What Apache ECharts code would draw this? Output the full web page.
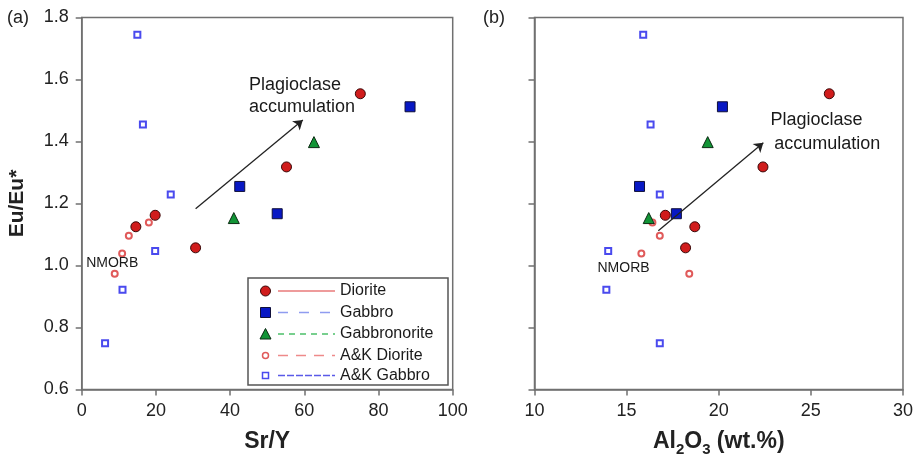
<!DOCTYPE html>
<html>
<head>
<meta charset="utf-8">
<script src="https://cdn.jsdelivr.net/npm/echarts@6/dist/echarts.min.js"></script>
<style>html,body{margin:0;padding:0;background:#fff}#c{width:916px;height:463px}</style>
</head>
<body>
<div id="c"></div>
<script>
// ---- data ----
const dioriteEu = [1.554, 1.318, 1.162, 1.125, 1.057];
const dioriteSrY = [75.1, 55.2, 19.8, 14.6, 30.7];
const dioriteAl = [26.0, 22.4, 17.1, 18.7, 18.2];

const gabbroEu = [1.512, 1.255, 1.167];
const gabbroSrY = [88.5, 42.6, 52.7];
const gabbroAl = [20.2, 15.7, 17.7];

const gabbronoriteEu = [1.398, 1.153];
const gabbronoriteSrY = [62.6, 41.0];
const gabbronoriteAl = [19.4, 16.2];

const akDioriteEu = [1.139, 1.096, 1.039, 0.973];
const akDioriteSrY = [18.1, 12.7, 10.9, 8.9];
const akDioriteAl = [16.4, 16.8, 15.8, 18.4];

const akGabbroEu = [1.744, 1.455, 1.229, 1.047, 0.922, 0.749];
const akGabbroSrY = [15.0, 16.5, 24.0, 19.8, 11.0, 6.3];
const akGabbroAl = [15.9, 16.3, 16.8, 14.0, 13.9, 16.8];

const srYTicks = [0, 20, 40, 60, 80, 100];
const alTicks = [10, 15, 20, 25, 30];
const euTicks = [0.6, 0.8, 1.0, 1.2, 1.4, 1.6, 1.8];

// arrows [x1, y1, x2, y2] in data units
const arrowA = [30.7, 1.183, 59.6, 1.469];
const arrowB = [16.72, 1.112, 22.42, 1.396];

// annotation texts [text, x, y]
const notesA = [["Plagioclase", 45.1, 1.582], ["accumulation", 45.1, 1.510], ["NMORB", 1.2, 1.008]];
const notesB = [["Plagioclase", 22.81, 1.469], ["accumulation", 23.01, 1.392], ["NMORB", 13.42, 0.991]];

// ---- styles ----
const FONT = "'Liberation Sans', Arial, Helvetica, sans-serif";
const groups = [
  {name: 'Diorite', eu: dioriteEu, a: dioriteSrY, b: dioriteAl, symbol: 'circle', size: 10,
   item: {color: '#d01c1c', borderColor: '#3a0808', borderWidth: 1, opacity: 1}, line: '#e87a7a', dash: 'solid'},
  {name: 'Gabbro', eu: gabbroEu, a: gabbroSrY, b: gabbroAl, symbol: 'rect', size: 10,
   item: {color: '#0818c4', borderColor: '#10103a', borderWidth: 1, opacity: 1}, line: '#8f9cf0', dash: [10, 11]},
  {name: 'Gabbronorite', eu: gabbronoriteEu, a: gabbronoriteSrY, b: gabbronoriteAl, symbol: 'triangle', size: 11,
   item: {color: '#129436', borderColor: '#0b2a12', borderWidth: 1, opacity: 1}, line: '#4cc06a', dash: [6, 5]},
  {name: 'A&K Diorite', eu: akDioriteEu, a: akDioriteSrY, b: akDioriteAl, symbol: 'emptyCircle', size: 6,
   item: {color: '#e05a5a', borderColor: '#e05a5a', borderWidth: 1.5, opacity: 1}, line: '#ee8a8a', dash: [10, 8]},
  {name: 'A&K Gabbro', eu: akGabbroEu, a: akGabbroSrY, b: akGabbroAl, symbol: 'emptyRect', size: 6,
   item: {color: '#4a4aee', borderColor: '#4a4aee', borderWidth: 1.5, opacity: 1}, line: '#5a5ae8', dash: [7, 2]}
];

const axisCol = '#707070';
function xAxisDef(idx, min, max, interval, name, gap) {
  return {
    gridIndex: idx, type: 'value', min: min, max: max, interval: interval,
    name: name, nameLocation: 'middle', nameGap: gap,
    nameTextStyle: {fontFamily: FONT, fontSize: 23, fontWeight: 'bold', color: '#222',
      rich: {s: {fontFamily: FONT, fontSize: 15, fontWeight: 'bold', color: '#222', verticalAlign: 'bottom', padding: [0, 0, -4, 0]},
             n: {fontFamily: FONT, fontSize: 23, fontWeight: 'bold', color: '#222'}}},
    axisLine: {show: true, onZero: false, lineStyle: {color: axisCol, width: 1.5}},
    axisTick: {show: true, inside: false, length: 6, lineStyle: {color: axisCol, width: 1.5}},
    axisLabel: {show: true, margin: 13, fontFamily: FONT, fontSize: 18, color: '#222'},
    splitLine: {show: false}
  };
}
function yAxisDef(idx, showLabel) {
  return {
    gridIndex: idx, type: 'value', min: 0.6, max: 1.8, interval: 0.2,
    name: showLabel ? 'Eu/Eu*' : '', nameLocation: 'middle', nameGap: 54,
    nameTextStyle: {fontFamily: FONT, fontSize: 21, fontWeight: 'bold', color: '#222'},
    axisLine: {show: true, onZero: false, lineStyle: {color: axisCol, width: 1.5}},
    axisTick: {show: true, inside: false, length: 6, lineStyle: {color: axisCol, width: 1.5}},
    axisLabel: {show: showLabel, margin: 13, fontFamily: FONT, fontSize: 18, color: '#222',
      formatter: v => v.toFixed(1)},
    splitLine: {show: false}
  };
}

const series = [];
groups.forEach(g => {
  [0, 1].forEach(p => {
    const xs = p === 0 ? g.a : g.b;
    series.push({
      type: 'scatter', name: g.name + (p ? ' b' : ''), xAxisIndex: p, yAxisIndex: p,
      symbol: g.symbol, symbolSize: g.size, itemStyle: g.item, z: g.size > 8 ? 4 : 3,
      data: xs.map((x, i) => [x, g.eu[i]])
    });
  });
});
// arrows
[arrowA, arrowB].forEach((ar, p) => {
  series.push({
    type: 'lines', coordinateSystem: 'cartesian2d', xAxisIndex: p, yAxisIndex: p,
    symbol: ['none', 'arrow'], symbolSize: 9, z: 5,
    lineStyle: {color: '#222', width: 1.3, opacity: 1},
    data: [{coords: [[ar[0], ar[1]], [ar[2], ar[3]]]}]
  });
});
// annotations
[notesA, notesB].forEach((notes, p) => {
  series.push({
    type: 'scatter', xAxisIndex: p, yAxisIndex: p, symbolSize: 0, silent: true, z: 6,
    itemStyle: {opacity: 1},
    data: notes.map(n => ({name: n[0], value: [n[1], n[2]]})),
    label: {show: true, position: 'right', distance: 0, formatter: d => d.name,
      fontFamily: FONT, fontSize: 18, color: '#1a1a1a', opacity: 1}
  });
});
// make NMORB smaller
series[series.length - 2].data[2].label = {fontSize: 14};
series[series.length - 1].data[2].label = {fontSize: 14};

// legend drawn as graphic
const lg = {x: 248, y: 278, w: 200, h: 107};
const rowY = [291, 312.5, 334, 355.5, 375.5];
const legendEls = [{
  type: 'rect', shape: {x: lg.x, y: lg.y, width: lg.w, height: lg.h},
  style: {fill: '#fff', stroke: '#555', lineWidth: 1.5}, z: 10
}];
groups.forEach((g, i) => {
  const y = rowY[i];
  legendEls.push({
    type: 'line', shape: {x1: 278, y1: y, x2: 335, y2: y},
    style: {stroke: g.line, lineWidth: 1.5, lineDash: g.dash === 'solid' ? null : g.dash}, z: 11
  });
  legendEls.push({
    type: 'text', x: 340, y: y, style: {text: g.name, fontFamily: FONT, fontSize: 16, fill: '#1a1a1a',
      textVerticalAlign: 'middle', verticalAlign: 'middle'}, z: 11
  });
});
// legend symbols
legendEls.push({type: 'circle', shape: {cx: 265.5, cy: rowY[0], r: 5}, style: {fill: '#d01c1c', stroke: '#3a0808', lineWidth: 1}, z: 11});
legendEls.push({type: 'rect', shape: {x: 260.5, y: rowY[1] - 5, width: 10, height: 10}, style: {fill: '#0818c4', stroke: '#10103a', lineWidth: 1}, z: 11});
legendEls.push({type: 'polygon', shape: {points: [[265.5, rowY[2] - 5.5], [271, rowY[2] + 5], [260, rowY[2] + 5]]}, style: {fill: '#129436', stroke: '#0b2a12', lineWidth: 1}, z: 11});
legendEls.push({type: 'circle', shape: {cx: 265.5, cy: rowY[3], r: 3}, style: {fill: '#fff', stroke: '#e05a5a', lineWidth: 1.5}, z: 11});
legendEls.push({type: 'rect', shape: {x: 262.5, y: rowY[4] - 3, width: 6, height: 6}, style: {fill: '#fff', stroke: '#4a4aee', lineWidth: 1.5}, z: 11});

legendEls.push({type: 'text', x: 7, y: 18, style: {text: '(a)', fontFamily: FONT, fontSize: 18, fill: '#222', verticalAlign: 'middle', textVerticalAlign: 'middle'}});
legendEls.push({type: 'text', x: 483, y: 18, style: {text: '(b)', fontFamily: FONT, fontSize: 18, fill: '#222', verticalAlign: 'middle', textVerticalAlign: 'middle'}});

const chart = echarts.init(document.getElementById('c'), null, {renderer: 'canvas'});
chart.setOption({
  animation: false,
  backgroundColor: '#fff',
  textStyle: {fontFamily: FONT},
  grid: [
    {left: 81.7, right: 463.3, top: 17.5, bottom: 73.5, show: true, borderColor: axisCol, borderWidth: 1.5, backgroundColor: 'transparent'},
    {left: 534.5, right: 10, top: 17.5, bottom: 73.5, show: true, borderColor: axisCol, borderWidth: 1.5, backgroundColor: 'transparent'}
  ],
  xAxis: [
    xAxisDef(0, 0, 100, 20, 'Sr/Y', 41),
    xAxisDef(1, 10, 30, 5, '{n|Al}{s|2}{n|O}{s|3}{n| (wt.%)}', 41)
  ],
  yAxis: [yAxisDef(0, true), yAxisDef(1, false)],
  series: series,
  graphic: legendEls
});
</script>
</body>
</html>
